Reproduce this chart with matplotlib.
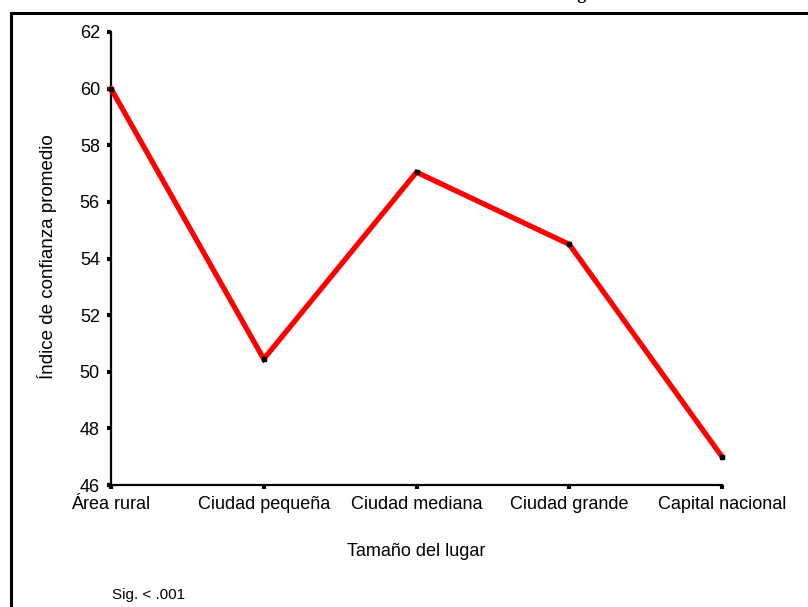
import matplotlib.pyplot as plt
from matplotlib.patches import Rectangle

plt.rcParams['font.family'] = ['Liberation Sans', 'DejaVu Sans']

# Data
categorias = ["Área rural", "Ciudad pequeña", "Ciudad mediana", "Ciudad grande", "Capital nacional"]
confianza = [60.0, 50.45, 57.05, 54.5, 47.0]
yticks = [46, 48, 50, 52, 54, 56, 58, 60, 62]

fig = plt.figure(figsize=(8.08, 6.07), dpi=100)
ax = fig.add_axes([111/808, 1-485/607, (722-111)/808, (485-32)/607])

x = list(range(len(categorias)))
ax.plot(x, confianza, color='#ff0000', lw=3.8, solid_joinstyle='miter', zorder=3, clip_on=False)
ax.plot(x, confianza, 's', color='black', ms=2.5, zorder=4, clip_on=False)

ax.set_xlim(0, len(categorias) - 1)
ax.set_ylim(46, 62)
ax.set_xticks(x)
ax.set_xticklabels(categorias, fontsize=13)
ax.set_yticks(yticks)
ax.set_yticklabels([str(v) for v in yticks], fontsize=13)
ax.tick_params(direction='out', length=3, width=3, pad=5)

for s in ['top', 'right']:
    ax.spines[s].set_visible(False)
for s in ['left', 'bottom']:
    ax.spines[s].set_linewidth(1.6)

fig.text(47/808, 1-257/607, "Índice de confianza promedio", fontsize=13.5,
         rotation=90, ha='center', va='center')
fig.text(416/808, 1-552/607, "Tamaño del lugar", fontsize=13, ha='center', va='center')
fig.text(112/808, 1-595/607, "Sig. < .001", fontsize=11, ha='left', va='center')

# partially visible title at the top edge
fig.text(603/808, 1+1/607, "Tamaño del lugar", fontsize=13, fontweight='bold',
         family='Liberation Serif', ha='right', va='baseline')

# frame around the chart
fig.patches.append(Rectangle((11/808, -0.05), 1.0, 1-12.5/607+0.05, transform=fig.transFigure,
                             fill=False, lw=2.2, edgecolor='black'))

fig.savefig("out.png", dpi=100)
